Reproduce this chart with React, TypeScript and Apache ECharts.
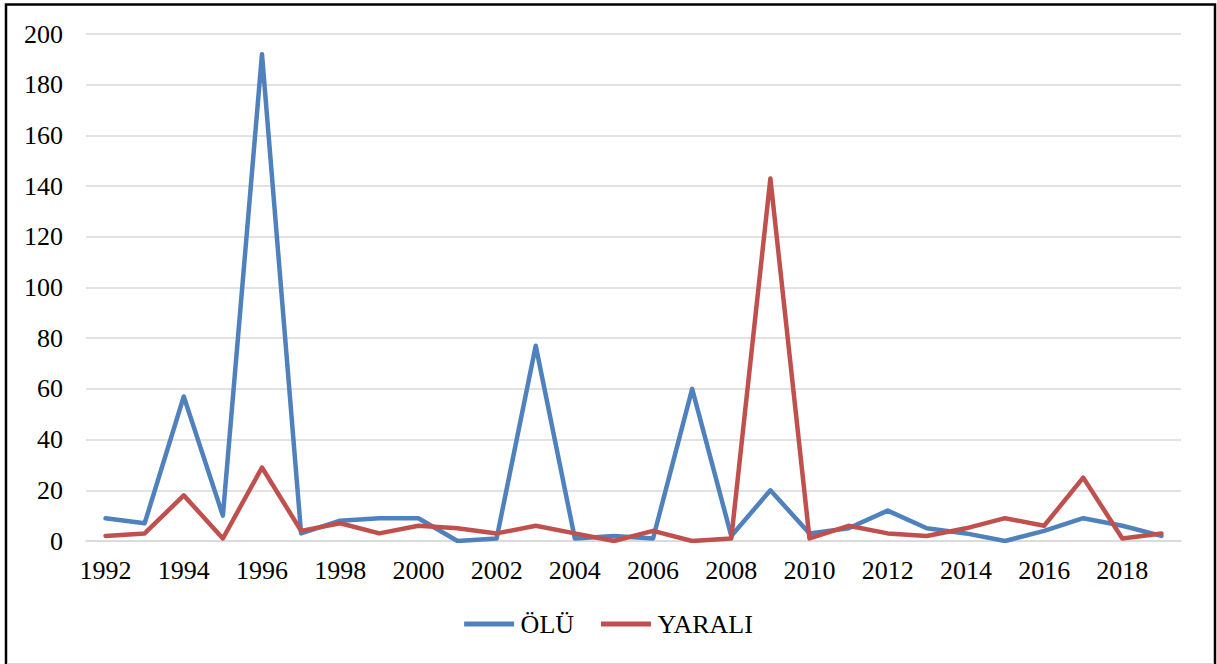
import React, { useEffect, useRef } from "react";
import * as echarts from "echarts";

const years = ["1992","1993","1994","1995","1996","1997","1998","1999","2000","2001","2002","2003","2004","2005","2006","2007","2008","2009","2010","2011","2012","2013","2014","2015","2016","2017","2018","2019"];
const olu = [9, 7, 57, 10, 192, 3, 8, 9, 9, 0, 1, 77, 1, 2, 1, 60, 2, 20, 3, 5, 12, 5, 3, 0, 4, 9, 6, 2];
const yarali = [2, 3, 18, 1, 29, 4, 7, 3, 6, 5, 3, 6, 3, 0, 4, 0, 1, 143, 1, 6, 3, 2, 5, 9, 6, 25, 1, 3];
const seriesNames = ["ÖLÜ", "YARALI"];

export default function App() {
  const ref = useRef<HTMLDivElement>(null);
  useEffect(() => {
    const chart = echarts.init(ref.current!, undefined, { renderer: "svg" });
    const font = "'Liberation Serif', 'Times New Roman', serif";
    chart.setOption({
      animation: false,
      backgroundColor: "#ffffff",
      textStyle: { fontFamily: font },
      graphic: [
        {
          type: "polyline",
          shape: { points: [[6, 680], [6, 4.5], [1215, 4.5], [1215, 680]] },
          style: { fill: "none", stroke: "#000000", lineWidth: 2.5 },
          silent: true,
        },
        {
          type: "line",
          shape: { x1: 7, y1: 663.5, x2: 1214, y2: 663.5 },
          style: { stroke: "#d9d9d9", lineWidth: 1 },
          silent: true,
        },
      ],
      grid: { left: 86, right: 36, top: 34, bottom: 123, containLabel: false },
      legend: {
        data: seriesNames,
        bottom: 22,
        left: "center",
        icon: "path://M0,0 L10,0 L10,1 L0,1 Z",
        itemWidth: 53,
        itemHeight: 5,
        itemGap: 27,
        textStyle: { fontFamily: font, fontSize: 26, color: "#000" },
      },
      xAxis: {
        type: "category",
        data: years,
        boundaryGap: true,
        axisLine: { show: true, lineStyle: { color: "#d9d9d9", width: 1.5 } },
        axisTick: { show: false },
        axisLabel: { interval: 1, color: "#000", fontSize: 26, fontFamily: font, margin: 16 },
      },
      yAxis: {
        type: "value",
        min: 0,
        max: 200,
        interval: 20,
        axisLine: { show: false },
        axisTick: { show: false },
        axisLabel: { color: "#000", fontSize: 26, fontFamily: font, margin: 23 },
        splitLine: { lineStyle: { color: "#d9d9d9", width: 1.5 } },
      },
      series: [
        {
          name: seriesNames[0],
          type: "line",
          data: olu,
          symbol: "none",
          lineStyle: { color: "#4f81bd", width: 4.5, cap: "round", join: "round" },
          itemStyle: { color: "#4f81bd" },
        },
        {
          name: seriesNames[1],
          type: "line",
          data: yarali,
          symbol: "none",
          lineStyle: { color: "#c0504d", width: 4.5, cap: "round", join: "round" },
          itemStyle: { color: "#c0504d" },
        },
      ],
    });
    return () => chart.dispose();
  }, []);
  return (
    <div
      ref={ref}
      style={{ position: "fixed", left: 0, top: 0, width: 1217, height: 664 }}
    />
  );
}
